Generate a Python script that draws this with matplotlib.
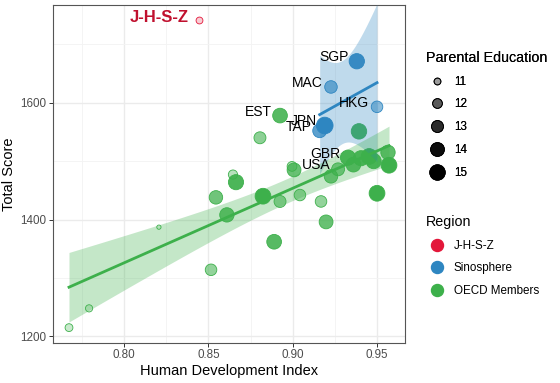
import numpy as np
import matplotlib
matplotlib.use("Agg")
import matplotlib.pyplot as plt
from matplotlib.lines import Line2D
from matplotlib.colors import to_rgba

plt.rcParams['font.family'] = ['Liberation Sans', 'DejaVu Sans']

# ---------------- data ----------------
region_names = ["J-H-S-Z", "Sinosphere", "OECD Members"]
region_colors = ["#E3173A", "#2E86C1", "#3DB04B"]

jhsz_hdi = [0.8445]
jhsz_score = [1741]
jhsz_edu = [11.0]
jhsz_labels = ["J-H-S-Z"]

sino_hdi = [0.938, 0.9227, 0.950, 0.919, 0.916]
sino_score = [1671, 1627, 1593, 1561, 1552]
sino_edu = [14.9, 13.3, 12.8, 15.8, 14.0]
sino_labels = ["SGP", "MAC", "HKG", "JPN", "TAP"]

oecd_hdi = [0.7674, 0.7793, 0.8207, 0.8516, 0.8545, 0.8610, 0.8646, 0.8664,
            0.8806, 0.8824, 0.8890, 0.8925, 0.8925, 0.8996, 0.9008, 0.9043,
            0.9168, 0.9198, 0.9227, 0.9269, 0.9328, 0.9393, 0.9405, 0.9453,
            0.9500, 0.9565, 0.9571, 0.9360, 0.9480]
oecd_score = [1215, 1248, 1387, 1314, 1438, 1408, 1477, 1464,
              1540, 1440, 1362, 1578, 1431, 1491, 1485, 1442,
              1431, 1396, 1474, 1486, 1506, 1551, 1505, 1508,
              1445, 1515, 1493, 1494, 1500]
oecd_edu = [11.3, 11.1, 10.4, 12.8, 13.8, 14.3, 11.8, 14.8,
            13.0, 15.2, 14.5, 14.5, 13.0, 12.0, 14.0, 12.8,
            12.8, 14.0, 13.8, 13.5, 14.8, 15.0, 14.8, 15.2,
            15.2, 14.3, 15.2, 14.5, 14.8]
oecd_labels = ["", "", "", "", "", "", "", "",
               "", "", "", "EST", "", "", "", "",
               "", "", "", "USA", "GBR", "", "", "",
               "", "", "", "", ""]

edu_breaks = [11, 12, 13, 14, 15]
x_ticks = [0.80, 0.85, 0.90, 0.95]
y_ticks = [1200, 1400, 1600]

# --------------- style helpers ---------------
PX = 72.0 / 100.0  # points per pixel


def diam_px(e):
    return np.sqrt(np.maximum(47 + 48 * (np.asarray(e, float) - 11), 12))


def marker_s(e):
    return (diam_px(e) * PX) ** 2


def alpha_of(e):
    return np.clip(0.22 + 0.185 * (np.asarray(e, float) - 11), 0.12, 1.0)


T975 = {3: 3.182, 4: 2.776, 25: 2.060, 26: 2.056, 27: 2.052, 28: 2.048,
        29: 2.045, 30: 2.042, 31: 2.040, 32: 2.037, 33: 2.035, 34: 2.032,
        35: 2.030}


def lm_band(x, y):
    x = np.asarray(x, float)
    y = np.asarray(y, float)
    n = len(x)
    b, a = np.polyfit(x, y, 1)
    xs = np.linspace(x.min(), x.max(), 80)
    fit = a + b * xs
    res = y - (a + b * x)
    s = np.sqrt(np.sum(res ** 2) / (n - 2))
    sxx = np.sum((x - x.mean()) ** 2)
    se = s * np.sqrt(1.0 / n + (xs - x.mean()) ** 2 / sxx)
    t = T975.get(n - 2, 2.0)
    return xs, fit, fit - t * se, fit + t * se


fig = plt.figure(figsize=(5.6, 3.83), dpi=100)
ax = fig.add_axes([53 / 560, 1 - 343 / 383, (405 - 53) / 560, (343 - 5) / 383])

groups = [
    (jhsz_hdi, jhsz_score, jhsz_edu, jhsz_labels, region_colors[0]),
    (sino_hdi, sino_score, sino_edu, sino_labels, region_colors[1]),
    (oecd_hdi, oecd_score, oecd_edu, oecd_labels, region_colors[2]),
]

for hdi, score, edu, labels, col in groups:
    fc = [to_rgba(col, a) for a in alpha_of(edu)]
    ax.scatter(hdi, score, s=marker_s(edu), facecolors=fc, edgecolors=col,
               linewidths=0.6, zorder=3)

for hdi, score, edu, labels, col in groups[1:]:
    xs, fit, lo, hi = lm_band(hdi, score)
    ax.fill_between(xs, lo, hi, color=col, alpha=0.3, linewidth=0, zorder=4)
    ax.plot(xs, fit, color=col, lw=2.0, zorder=5)

for hdi, score, edu, labels, col in groups[1:]:
    for x, y, lab in zip(hdi, score, labels):
        if lab:
            ax.annotate(lab, (x, y), xytext=(-5.8, 2.9), textcoords='offset points',
                        ha='right', va='center', fontsize=10, color='black', zorder=6)

for x, y, lab in zip(jhsz_hdi, jhsz_score, jhsz_labels):
    ax.annotate(lab, (x, y), xytext=(-7.5, 2.0), textcoords='offset points',
                ha='right', va='center', fontsize=12, fontweight='bold',
                color='#C0102E', zorder=6)

# axes styling (theme_bw look)
allx = jhsz_hdi + sino_hdi + oecd_hdi
ally = jhsz_score + sino_score + oecd_score
xr = max(allx) - min(allx)
yr = max(ally) - min(ally)
ax.set_xlim(min(allx) - 0.05 * xr, max(allx) + 0.05 * xr)
ax.set_ylim(min(ally) - 0.05 * yr, max(ally) + 0.05 * yr)
ax.set_xticks(x_ticks)
ax.set_xticklabels([f"{v:.2f}" for v in x_ticks])
ax.set_yticks(y_ticks)
ax.set_xticks([0.775, 0.825, 0.875, 0.925], minor=True)
ax.set_yticks([1300, 1500, 1700], minor=True)
ax.grid(True, which='major', color='#EBEBEB', lw=1.0, zorder=0)
ax.grid(True, which='minor', color='#F3F3F3', lw=0.6, zorder=0)
ax.set_axisbelow(True)
for sp in ax.spines.values():
    sp.set_color('#555555')
    sp.set_linewidth(0.8)
ax.tick_params(which='major', length=2.6, width=0.7, color='#333333',
               labelsize=8.4, labelcolor='#4D4D4D', pad=2)
ax.tick_params(which='minor', length=0)
ax.set_xlabel("Human Development Index", fontsize=10.5, labelpad=2)
ax.set_ylabel("Total Score", fontsize=10.5, labelpad=3)

# legends
size_handles = [Line2D([], [], marker='o', linestyle='', markersize=diam_px(e) * PX,
                       markerfacecolor=(0, 0, 0, float(alpha_of(e))),
                       markeredgecolor='black', markeredgewidth=0.6)
                for e in edu_breaks]
leg1 = fig.legend(size_handles, [str(e) for e in edu_breaks],
                  title="Parental Education", loc='upper left',
                  bbox_to_anchor=(426 / 560, 1 - 51 / 383), frameon=False,
                  fontsize=8.4, title_fontsize=10.3, labelspacing=0.92,
                  handletextpad=0.6, handlelength=1.8, alignment='left',
                  borderaxespad=0, borderpad=0)
reg_handles = [Line2D([], [], marker='o', linestyle='', markersize=12 * PX,
                      markerfacecolor=c, markeredgecolor=c)
               for c in region_colors]
leg2 = fig.legend(reg_handles, region_names, title="Region", loc='upper left',
                  bbox_to_anchor=(426 / 560, 1 - 215 / 383), frameon=False,
                  fontsize=8.4, title_fontsize=10.3, labelspacing=0.92,
                  handletextpad=0.6, handlelength=1.8, alignment='left',
                  borderaxespad=0, borderpad=0)
fig.add_artist(leg1)

fig.savefig("out.png", dpi=100)
